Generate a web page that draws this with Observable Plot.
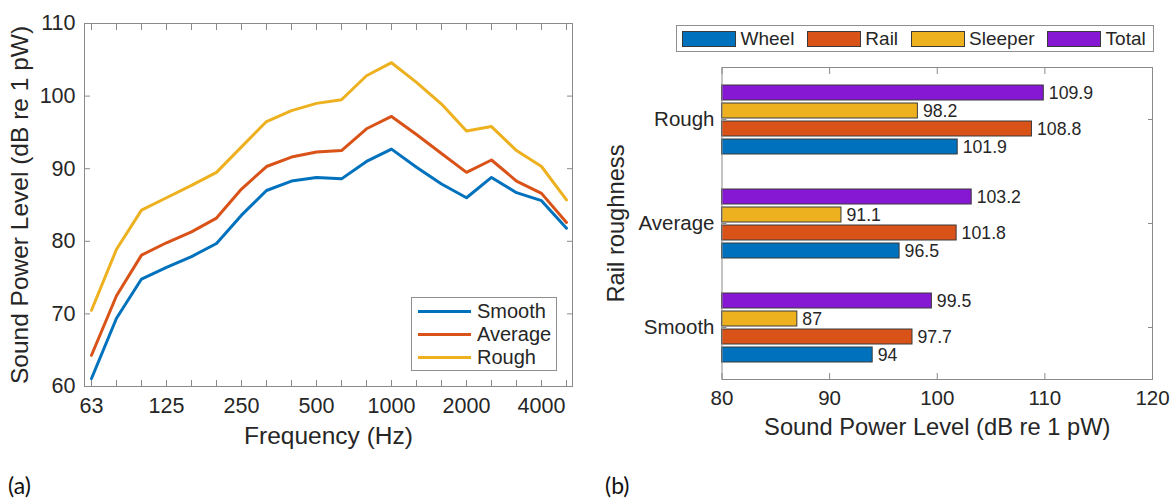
<!DOCTYPE html>
<html>
<head>
<meta charset="utf-8">
<script src="https://cdn.jsdelivr.net/npm/d3@7"></script>
<script src="https://cdn.jsdelivr.net/npm/@observablehq/plot@0.6"></script>
<style>
  body { margin: 0; background: #fff; }
  #wrap { position: relative; width: 1174px; height: 502px; overflow: hidden; background: #fff;
          font-family: "Liberation Sans", Arial, sans-serif; color: #262626; }
  #panelA { position: absolute; left: 0; top: 0; }
  #panelB { position: absolute; left: 600px; top: 0; }
  .legA { position: absolute; left: 411px; top: 297px; width: 146px; height: 74px; box-sizing: border-box;
          border: 1px solid #8f8f8f; background: #fff; padding-top: 2px; }
  .legA .row { display: flex; align-items: center; height: 23px; font-size: 20px; }
  .legA .ln { width: 53px; height: 3px; margin-left: 6px; margin-right: 6px; }
  .legB { position: absolute; left: 676px; top: 25px; width: 478px; height: 27px; box-sizing: border-box;
          border: 1px solid #8f8f8f; background: #fff; display: flex; align-items: center; padding-left: 5px;
          font-size: 19px; }
  .legB .item { display: flex; align-items: center; margin-right: 12.5px; }
  .legB .sw { width: 54px; height: 16px; box-sizing: border-box; border: 1px solid #3a3a3a; margin-right: 4.5px; }
  .tag { position: absolute; top: 474px; font-family: Lato, "Noto Sans", sans-serif; font-size: 23px; line-height: 1; color: #111; }
</style>
</head>
<body>
<div id="wrap">
  <div id="panelA"></div>
  <div id="panelB"></div>
  <div class="legA" id="legA"></div>
  <div class="legB" id="legB"></div>
  <div class="tag" style="left:8px">(a)</div>
  <div class="tag" style="left:605px">(b)</div>
</div>
<script>
// ---------- Panel (a) data ----------
const bands = [63, 80, 100, 125, 160, 200, 250, 315, 400, 500, 630, 800, 1000, 1250, 1600, 2000, 2500, 3150, 4000, 5000];
const labeledBands = [63, 125, 250, 500, 1000, 2000, 4000];
const smooth  = [61.1, 69.4, 74.8, 76.4, 77.9, 79.7, 83.6, 87.0, 88.3, 88.8, 88.6, 91.0, 92.7, 90.2, 87.9, 86.0, 88.8, 86.7, 85.6, 81.8];
const average = [64.3, 72.5, 78.1, 79.8, 81.3, 83.2, 87.2, 90.3, 91.6, 92.3, 92.5, 95.5, 97.2, 94.7, 92.1, 89.5, 91.2, 88.3, 86.6, 82.6];
const rough   = [70.5, 78.9, 84.3, 86.0, 87.7, 89.5, 93.0, 96.5, 98.0, 99.0, 99.5, 102.8, 104.6, 101.9, 98.9, 95.2, 95.8, 92.5, 90.3, 85.7];
const seriesNames = ["Smooth", "Average", "Rough"];
const lineColors = ["#0072BD", "#D95319", "#EDB120"];
const yDomainA = [60, 110];
const yTicksA = [60, 70, 80, 90, 100, 110];
const xLabelA = "Frequency (Hz)";
const yLabelA = "Sound Power Level (dB re 1 pW)";

// ---------- Panel (b) data ----------
const groups = ["Rough", "Average", "Smooth"];
const components = ["Wheel", "Rail", "Sleeper", "Total"];
const wheel   = [101.9, 96.5, 94];
const rail    = [108.8, 101.8, 97.7];
const sleeper = [98.2, 91.1, 87];
const total   = [109.9, 103.2, 99.5];
const barColors = ["#0072BD", "#D95319", "#EDB120", "#8617D3"];
const xDomainB = [80, 120];
const xTicksB = [80, 90, 100, 110, 120];
const xLabelB = "Sound Power Level (dB re 1 pW)";
const yLabelB = "Rail roughness";

const FONT = '"Liberation Sans", Arial, sans-serif';
const TEXT = "#262626";
const BOX = "#8a8a8a";
const plain = d => String(d);

// ---------- Panel (a) ----------
const seriesValues = [smooth, average, rough];
const rowsA = seriesNames.flatMap((s, si) => bands.map((b, i) => ({series: s, band: b, level: seriesValues[si][i]})));

const plotA = Plot.plot({
  width: 590, height: 460,
  marginLeft: 84, marginRight: 18, marginTop: 23, marginBottom: 74,
  style: {fontFamily: FONT, fontSize: "21.5px", color: TEXT, background: "transparent", overflow: "visible"},
  x: {type: "point", domain: bands, padding: 0},
  y: {domain: yDomainA},
  color: {domain: seriesNames, range: lineColors},
  marks: [
    Plot.line(rowsA, {x: "band", y: "level", z: "series", stroke: "series", strokeWidth: 3, strokeLinejoin: "round"}),
    Plot.frame({stroke: BOX}),
    Plot.axisX({anchor: "bottom", ticks: bands, tickSize: 6, dy: -6, tickFormat: () => "", stroke: BOX, label: null}),
    Plot.axisX({anchor: "top", ticks: bands, tickSize: 6, dy: 6, tickFormat: () => "", stroke: BOX, label: null}),
    Plot.axisX({anchor: "bottom", ticks: labeledBands, tickFormat: plain, tickSize: 0, tickPadding: 11, label: null, fill: TEXT}),
    Plot.axisY({anchor: "left", ticks: yTicksA, tickSize: 6, dx: 6, tickFormat: () => "", stroke: BOX, label: null}),
    Plot.axisY({anchor: "right", ticks: yTicksA, tickSize: 6, dx: -6, tickFormat: () => "", stroke: BOX, label: null}),
    Plot.axisY({anchor: "left", ticks: yTicksA, tickFormat: plain, tickSize: 0, tickPadding: 9, label: null, fill: TEXT}),
    Plot.text([yLabelA], {text: d => d, frameAnchor: "left", textAnchor: "middle", lineAnchor: "middle", dx: -64, rotate: -90, fontSize: 24.5, fill: TEXT}),
    Plot.text([xLabelA], {text: d => d, frameAnchor: "bottom", textAnchor: "middle", lineAnchor: "middle", dy: 49.5, fontSize: 24.5, fill: TEXT})
  ]
});
document.getElementById("panelA").appendChild(plotA);

// legend (a)
const legA = document.getElementById("legA");
seriesNames.forEach((s, i) => {
  const row = document.createElement("div");
  row.className = "row";
  row.innerHTML = `<div class="ln" style="background:${lineColors[i]}"></div><span>${s}</span>`;
  legA.appendChild(row);
});

// ---------- Panel (b) ----------
const compValues = [wheel, rail, sleeper, total];
const rowsB = groups.flatMap((g, gi) => components.map((c, ci) => ({group: g, component: c, value: compValues[ci][gi]})));
const componentsTopDown = components.slice().reverse();

const plotB = Plot.plot({
  width: 574, height: 460,
  marginLeft: 121.5, marginRight: 22, marginTop: 67, marginBottom: 81,
  style: {fontFamily: FONT, fontSize: "20.5px", color: TEXT, background: "transparent", overflow: "visible"},
  x: {domain: xDomainB},
  y: {domain: componentsTopDown, paddingInner: 0.185, paddingOuter: 0.844, axis: null},
  fy: {domain: groups, padding: 0},
  color: {domain: components, range: barColors},
  marks: [
    Plot.barX(rowsB, {fy: "group", y: "component", x1: xDomainB[0], x2: "value", fill: "component", stroke: "#3a3a3a", strokeWidth: 1}),
    Plot.text(rowsB, {fy: "group", y: "component", x: "value", text: d => String(d.value), dx: 5, textAnchor: "start", fontSize: 17.7, fill: TEXT}),
    Plot.frame({stroke: BOX, facet: "super"}),
    Plot.axisX({anchor: "bottom", ticks: xTicksB, tickSize: 6, dy: -6, tickFormat: () => "", stroke: BOX, label: null}),
    Plot.axisX({anchor: "top", ticks: xTicksB, tickSize: 6, dy: 6, tickFormat: () => "", stroke: BOX, label: null}),
    Plot.axisX({anchor: "bottom", ticks: xTicksB, tickFormat: plain, tickSize: 0, tickPadding: 11, label: null, fill: TEXT}),
    Plot.axisFy({anchor: "left", tickSize: 5, dx: 5, tickFormat: () => "", stroke: BOX, label: null}),
    Plot.axisFy({anchor: "right", tickSize: 5, dx: -5, tickFormat: () => "", stroke: BOX, label: null}),
    Plot.axisFy({anchor: "left", tickSize: 0, tickPadding: 7.5, label: null, fill: TEXT}),
    Plot.text([yLabelB], {text: d => d, facet: "super", frameAnchor: "left", textAnchor: "middle", lineAnchor: "middle", dx: -106, rotate: -90, fontSize: 23.7, fill: TEXT}),
    Plot.text([xLabelB], {text: d => d, facet: "super", frameAnchor: "bottom", textAnchor: "middle", lineAnchor: "middle", dy: 48, fontSize: 23.7, fill: TEXT})
  ]
});
document.getElementById("panelB").appendChild(plotB);

// legend (b)
const legB = document.getElementById("legB");
components.forEach((c, i) => {
  const item = document.createElement("div");
  item.className = "item";
  item.innerHTML = `<div class="sw" style="background:${barColors[i]}"></div><span>${c}</span>`;
  legB.appendChild(item);
});
</script>
</body>
</html>
